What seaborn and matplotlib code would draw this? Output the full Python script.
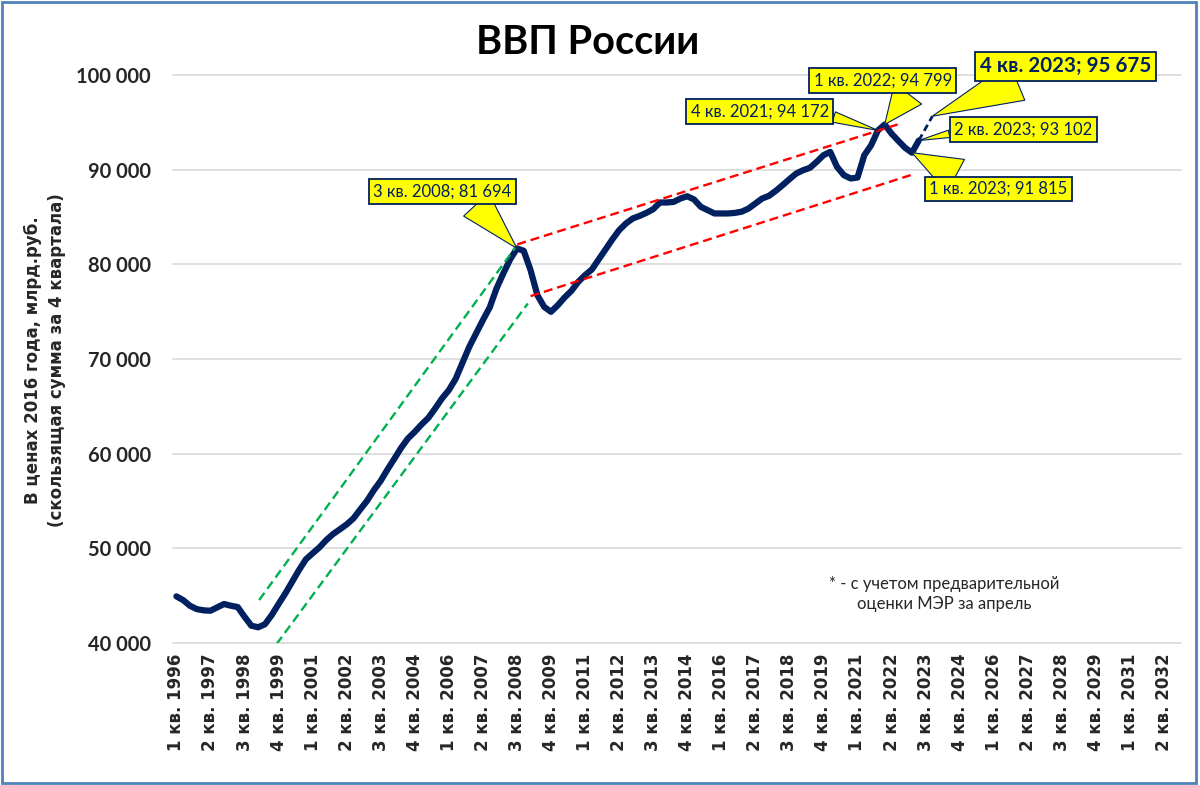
import numpy as np
import pandas as pd
import seaborn as sns
import matplotlib.pyplot as plt
from matplotlib.patches import Rectangle
from matplotlib.ticker import FuncFormatter

# ВВП, квартальные значения с 1 кв. 1996 по 2 кв. 2023 (млрд руб., цены 2016 г.)
gdp = [44900, 44500, 43900, 43550, 43420, 43380, 43740, 44090, 43910, 43770,
       42750, 41800, 41630, 41950, 42930, 44090, 45220, 46450, 47680, 48810,
       49450, 50080, 50850, 51490, 51990, 52510, 53150, 54100, 55010, 56140,
       57120, 58330, 59450, 60610, 61600, 62300, 63080, 63780, 64780, 65830,
       66710, 67900, 69600, 71290, 72700, 74110, 75450, 77460, 79050, 80530,
       81694, 81440, 79390, 76750, 75510, 74990, 75690, 76510, 77210, 78160,
       78870, 79470, 80530, 81580, 82640, 83620, 84330, 84860, 85130, 85450,
       85840, 86550, 86550, 86610, 86970, 87210, 86870, 86090, 85740, 85390,
       85390, 85390, 85450, 85580, 85910, 86440, 86970, 87250, 87780, 88380,
       89010, 89610, 89960, 90210, 90840, 91550, 91900, 90310, 89440, 89090,
       89190, 91550, 92600, 94172, 94799, 93830, 93070, 92330, 91815, 93102]

# оценка (2 кв. 2023 - 4 кв. 2023)
fc_idx = [109, 110, 111]
fc_val = [93102, 94390, 95675]

# трендовые линии (индекс квартала, значение)
green_up = ([12.15, 49.8], [44510, 81830])
green_lo = ([14.7, 51.6], [39850, 75870])
red_up = ([50.05, 105.9], [82120, 94800])
red_lo = ([52.0, 107.8], [76650, 89440])

start_year = 1996
n_cat = 148
quarters = [f"{i % 4 + 1} кв. {start_year + i // 4}" for i in range(n_cat)]
tick_idx = list(range(0, 146, 5))

# подписи-выноски: индекс квартала
callout_idx = [50, 103, 104, 111, 109, 108]

navy = "#002060"

sns.set_theme(style="white")
plt.rcParams['font.family'] = ['Lato', 'DejaVu Sans']

fig = plt.figure(figsize=(12, 7.85), dpi=100)
ax = fig.add_axes([173 / 1200, 1 - 642.7 / 785, 1008 / 1200, 567.4 / 785])

df = pd.DataFrame({"q": range(len(gdp)), "gdp": gdp})
sns.lineplot(data=df, x="q", y="gdp", color=navy, linewidth=4.5, ax=ax,
             solid_joinstyle="round", solid_capstyle="round", zorder=3)
sns.lineplot(x=fc_idx, y=fc_val, color=navy, linewidth=2, ax=ax,
             linestyle=(0, (2.5, 1.5)), zorder=3)

for (xs, ys), col in [(green_up, "#00B050"), (green_lo, "#00B050"),
                      (red_up, "#FF0000"), (red_lo, "#FF0000")]:
    ax.plot(xs, ys, color=col, lw=1.7, linestyle=(0, (3.8, 2.1)), zorder=4)

ax.set_xlim(-0.5, n_cat - 0.5)
ax.set_ylim(40000, 100000)
ax.set_yticks(range(40000, 100001, 10000))
ax.yaxis.set_major_formatter(FuncFormatter(lambda v, p: f"{v:,.0f}".replace(",", " ")))
ax.set_xticks(tick_idx)
ax.set_xticklabels([quarters[i] for i in tick_idx], rotation=90,
                   fontfamily="DejaVu Sans", fontweight="bold", fontsize=12)
for lab in ax.get_yticklabels():
    lab.set_fontweight("bold")
    lab.set_fontsize(14.5)
ax.tick_params(axis="y", length=0, pad=16)
ax.tick_params(axis="x", length=0, pad=8)
ax.grid(axis="y", color="#D9D9D9", lw=1.2)
for gl in ax.get_ygridlines():
    gl.set_clip_on(False)
for s in ax.spines.values():
    s.set_visible(False)
ax.set_xlabel("")
ax.set_ylabel("")

def fmt(v):
    return f"{v:,.0f}".replace(",", " ")

# смещения рамок (пункты), точка привязки стрелки, ширина клина, шрифт, отступ
layout = [
    ((-53.6, 41.0), (0.71, 0.0), 2.05, 12.0, "normal", 0.26),
    ((-85.1, 13.6), (1.0, 0.25), 0.65, 12.0, "normal", 0.26),
    ((-1.4, 31.5), (0.71, 0.0), 2.05, 12.0, "normal", 0.26),
    ((95.8, 36.1), (0.29, 0.0), 2.0, 14.8, "bold", 0.22),
    ((75.2, 7.9), (0.0, 0.3), 0.45, 12.0, "normal", 0.26),
    ((62.1, -26.1), (0.26, 1.0), 2.25, 12.0, "normal", 0.26),
]
for qi, (off, rel, tw, fs, fw, pad) in zip(callout_idx, layout):
    val = gdp[qi] if qi < len(gdp) else fc_val[fc_idx.index(qi)]
    ax.annotate(f"{quarters[qi]}; {fmt(val)}", xy=(qi, val), xytext=off,
                textcoords="offset points", ha="center", va="center",
                fontsize=fs, fontweight=fw, color=navy, zorder=6,
                bbox=dict(boxstyle=f"square,pad={pad}", fc="#FFFF00", ec=navy, lw=1.3),
                arrowprops=dict(arrowstyle=f"wedge,tail_width={tw}", fc="#FFFF00",
                                ec=navy, lw=0.8, relpos=rel, shrinkA=0, shrinkB=0))

fig.text(588 / 1200, 1 - 43 / 785, "ВВП России", ha="center", va="center",
         fontsize=28.5, fontweight="bold", color="black")
fig.text(45 / 1200, 1 - 360 / 785,
         "В ценах 2016 года, млрд.руб.\n(скользящая сумма за 4 квартала)",
         rotation=90, ha="center", va="center", multialignment="center",
         fontfamily="DejaVu Sans", fontweight="bold", fontsize=12, linespacing=1.45)
fig.text(944 / 1200, 1 - 594 / 785, "* - с учетом предварительной\nоценки МЭР за апрель",
         ha="center", va="center", multialignment="center", fontsize=12, linespacing=1.3)

fig.patches.append(Rectangle((0.002, 0.003), 0.995, 0.994, transform=fig.transFigure,
                             fill=False, ec="#4F81BD", lw=2))

fig.savefig("out.png", dpi=100)
